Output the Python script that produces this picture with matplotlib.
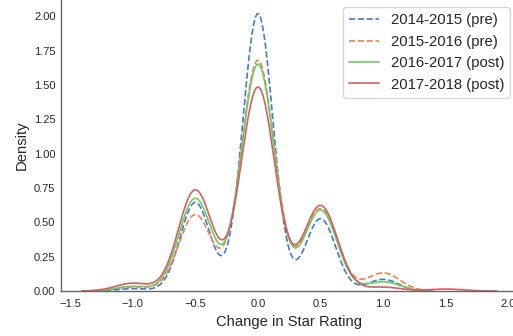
import numpy as np
import matplotlib
matplotlib.use("Agg")
import matplotlib.pyplot as plt
import seaborn as sns

# Change in star rating, and how many items had each change per year pair
changes = [-1.5, -1.0, -0.5, 0.0, 0.5, 1.0, 1.5]
counts_1415 = [0, 1, 38, 119, 31, 5, 0]
counts_1516 = [0, 2, 38, 115, 41, 9, 0]
counts_1617 = [0, 2, 40, 98, 35, 4, 0]
counts_1718 = [0, 4, 52, 105, 44, 2, 1]

labels = ["2014-2015 (pre)", "2015-2016 (pre)", "2016-2017 (post)", "2017-2018 (post)"]
styles = ["--", "--", "-", "-"]

sns.set_theme(style="white", palette="muted")
plt.rcParams["font.family"] = ["Liberation Sans", "DejaVu Sans"]

colors = sns.color_palette("muted")
fig = plt.figure(figsize=(5.13, 3.36), dpi=100)
# axes runs a little past the right edge, as in the reference crop
ax = fig.add_axes([61 / 513, 45 / 336, 456.5 / 513, 291 / 336])

for i, counts in enumerate([counts_1415, counts_1516, counts_1617, counts_1718]):
    samples = np.repeat(changes, counts)
    sns.kdeplot(x=samples, ax=ax, color=colors[i], linestyle=styles[i],
                linewidth=1.2, label=labels[i])

ax.set_xlabel("Change in Star Rating", fontsize=10.6, labelpad=4)
ax.set_ylabel("Density", fontsize=10.6)
ax.tick_params(labelsize=8, length=0, pad=4, colors="0.15")
ax.tick_params(axis="x", pad=6)
ax.set_xticks([-1.5, -1.0, -0.5, 0.0, 0.5, 1.0, 1.5, 2.0])
ax.legend(loc="upper right", fontsize=10.7)
sns.despine(ax=ax)
for side in ["left", "bottom"]:
    ax.spines[side].set_color("0.4")
    ax.spines[side].set_linewidth(1.0)

fig.savefig("out.png", dpi=100)
